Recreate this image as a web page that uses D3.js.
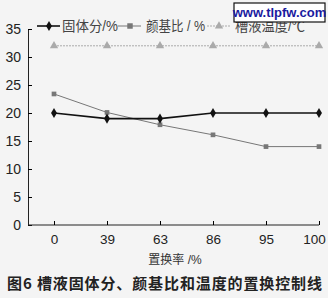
<!DOCTYPE html>
<html>
<head>
<meta charset="utf-8">
<script src="https://cdn.jsdelivr.net/npm/d3@7"></script>
<style>
  body { margin: 0; background: #f4f4f4; }
  svg { display: block; font-family: "Liberation Sans", "Noto Sans CJK SC", sans-serif; }
</style>
</head>
<body>
<svg id="chart" width="328" height="298"></svg>
<script>
const categories = ["0", "39", "63", "86", "95", "100"];
const solids = [20, 19, 19, 20, 20, 20];
const pigmentRatio = [23.4, 20.1, 17.9, 16.1, 14, 14];
const bathTemp = [32, 32, 32, 32, 32, 32];
const yTicks = [0, 5, 10, 15, 20, 25, 30, 35];

const svg = d3.select("#chart");
const margin = { left: 28, right: 9, top: 29, bottom: 73 };
const width = 328, height = 298;

const x = d3.scalePoint().domain(categories).range([54, 319]);
const y = d3.scaleLinear().domain([0, 35]).range([height - margin.bottom, margin.top]);

// axes
const yAxis = svg.append("g")
  .attr("transform", `translate(${margin.left},0)`)
  .call(d3.axisLeft(y).tickValues(yTicks).tickSize(-4).tickPadding(7));
yAxis.select(".domain").attr("stroke", "#222");
yAxis.selectAll("text").attr("font-size", 14).attr("fill", "#222");

const xAxis = svg.append("g")
  .attr("transform", `translate(0,${y(0)})`)
  .call(d3.axisBottom(x).tickSize(-4).tickPadding(9).tickSizeOuter(0));
xAxis.select(".domain").attr("d", `M${margin.left},0H${x("100")}`).attr("stroke", "#222");
xAxis.selectAll("text").attr("font-size", 13.5).attr("fill", "#222");
// last label is squeezed against the right edge
xAxis.selectAll(".tick:last-of-type text").attr("dx", -5);

const series = [
  { name: "固体分/%", values: solids, color: "#111", width: 1.6, dash: null, marker: "diamond" },
  { name: "颜基比 / %", values: pigmentRatio, color: "#777", width: 1, dash: null, marker: "square" },
  { name: "槽液温度/℃", values: bathTemp, color: "#aaa", width: 1, dash: "2,1", marker: "triangle" }
];

const line = d3.line().x((d, i) => x(categories[i])).y(d => y(d));
const symbols = { diamond: d3.symbolDiamond, square: d3.symbolSquare, triangle: d3.symbolTriangle };

series.slice().reverse().forEach(s => {
  svg.append("path")
    .attr("d", line(s.values))
    .attr("fill", "none")
    .attr("stroke", s.color)
    .attr("stroke-width", s.width)
    .attr("stroke-dasharray", s.dash);
  svg.selectAll(null).data(s.values).enter().append("path")
    .attr("d", d3.symbol().type(symbols[s.marker]).size(s.marker === "square" ? 22 : 30))
    .attr("transform", (d, i) => `translate(${x(categories[i])},${y(d)})`)
    .attr("fill", s.color);
});

// legend
const legendPos = [37, 118, 207];
const legendText = [[62, 56], [146, 59], [235, 70]];
series.forEach((s, i) => {
  const g = svg.append("g").attr("transform", `translate(${legendPos[i]},26)`);
  g.append("line").attr("x1", 0).attr("x2", 23).attr("stroke", s.color)
    .attr("stroke-width", s.width).attr("stroke-dasharray", s.dash);
  g.append("path").attr("d", d3.symbol().type(symbols[s.marker]).size(30))
    .attr("transform", "translate(12,0)").attr("fill", s.color);
  svg.append("text").attr("x", legendText[i][0]).attr("y", 31).attr("font-size", 14)
    .attr("textLength", legendText[i][1]).attr("lengthAdjust", "spacingAndGlyphs")
    .attr("fill", "#444").text(s.name);
});

// watermark
svg.append("rect").attr("x", 234).attr("y", 3).attr("width", 91).attr("height", 19)
  .attr("fill", "#fff").attr("stroke", "#111").attr("stroke-width", 1.2);
svg.append("text").attr("x", 279.5).attr("y", 17).attr("text-anchor", "middle")
  .attr("font-size", 13).attr("font-weight", "bold").attr("fill", "#1a1aa0")
  .text("www.tlpfw.com");

// titles
svg.append("text").attr("x", 175).attr("y", 264).attr("text-anchor", "middle")
  .attr("font-size", 12).attr("fill", "#333").text("置换率 /%");
svg.append("text").attr("x", 7).attr("y", 289).attr("font-size", 15)
  .attr("font-weight", "bold").attr("fill", "#222")
  .attr("font-family", "Noto Sans CJK SC")
  .attr("textLength", 315)
  .text("图6  槽液固体分、颜基比和温度的置换控制线");
</script>
</body>
</html>
